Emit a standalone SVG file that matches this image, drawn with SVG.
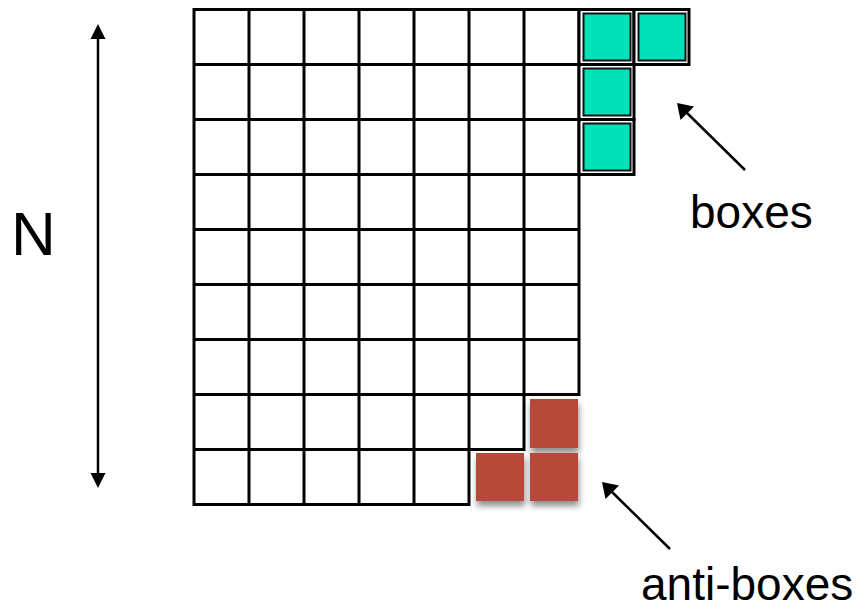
<svg xmlns="http://www.w3.org/2000/svg" width="865" height="611" viewBox="0 0 865 611">
<style>
.grid{fill:none;stroke:#000;stroke-width:3;stroke-linecap:square}
.cell{fill:#fff;stroke:#000;stroke-width:3}
.teal{fill:#00e1b9;stroke:#111;stroke-width:2}
.red{fill:#b64a39}
.lbl{font-family:"Liberation Sans",Arial,sans-serif;fill:#000}
.arr{stroke:#000;stroke-width:2.5;fill:none}
</style>
<defs>
<filter id="sh" x="-20%" y="-20%" width="150%" height="160%">
<feGaussianBlur in="SourceAlpha" stdDeviation="3"/>
<feOffset dx="1" dy="5" result="b"/>
<feComponentTransfer><feFuncA type="linear" slope="0.45"/></feComponentTransfer>
<feMerge><feMergeNode/><feMergeNode in="SourceGraphic"/></feMerge>
</filter>
</defs>
<g id="grid">
<path class="grid" d="M194,9.5 H579 M194,64.5 H579 M194,119.5 H579 M194,174.5 H579 M194,229.5 H579 M194,284.5 H579 M194,339.5 H579 M194,394.5 H579 M194,449.5 H524 M194,504.5 H469
M194,9.5 V504.5 M249,9.5 V504.5 M304,9.5 V504.5 M359,9.5 V504.5 M414,9.5 V504.5 M469,9.5 V504.5 M524,9.5 V449.5 M579,9.5 V394.5"/>
</g>
<g id="boxes">
<rect class="cell" x="579" y="9.5" width="55" height="55"/>
<rect class="cell" x="634" y="9.5" width="55" height="55"/>
<rect class="cell" x="579" y="64.5" width="55" height="55"/>
<rect class="cell" x="579" y="119.5" width="55" height="55"/>
<rect class="teal" x="583.5" y="13.5" width="47" height="47"/>
<rect class="teal" x="638.5" y="13.5" width="47" height="47"/>
<rect class="teal" x="583.5" y="68.5" width="47" height="47"/>
<rect class="teal" x="583.5" y="123.5" width="47" height="47"/>
</g>
<g id="anti-boxes" filter="url(#sh)">
<rect class="red" x="530" y="399" width="48" height="49"/>
<rect class="red" x="476" y="453" width="48" height="48"/>
<rect class="red" x="530" y="453" width="48" height="48"/>
</g>
<g id="connectors">
<line class="arr" x1="98" y1="256" x2="98" y2="38"/>
<path d="M98,24 L90.5,39 L105.5,39 z" fill="#000"/>
<line class="arr" x1="98" y1="256" x2="98" y2="474"/>
<path d="M98,488 L90.5,473 L105.5,473 z" fill="#000"/>
<line class="arr" x1="745" y1="170" x2="685" y2="111"/>
<path d="M677,103 L680.5,120 L694,106.5 z" fill="#000"/>
<line class="arr" x1="670" y1="549" x2="610" y2="490"/>
<path d="M602,482 L605.5,499 L619,485.5 z" fill="#000"/>
</g>
<g id="labels">
<text class="lbl" x="11" y="255" font-size="62">N</text>
<text class="lbl" x="690" y="228" font-size="46">boxes</text>
<text class="lbl" x="641" y="600" font-size="46">anti-boxes</text>
</g>
</svg>
